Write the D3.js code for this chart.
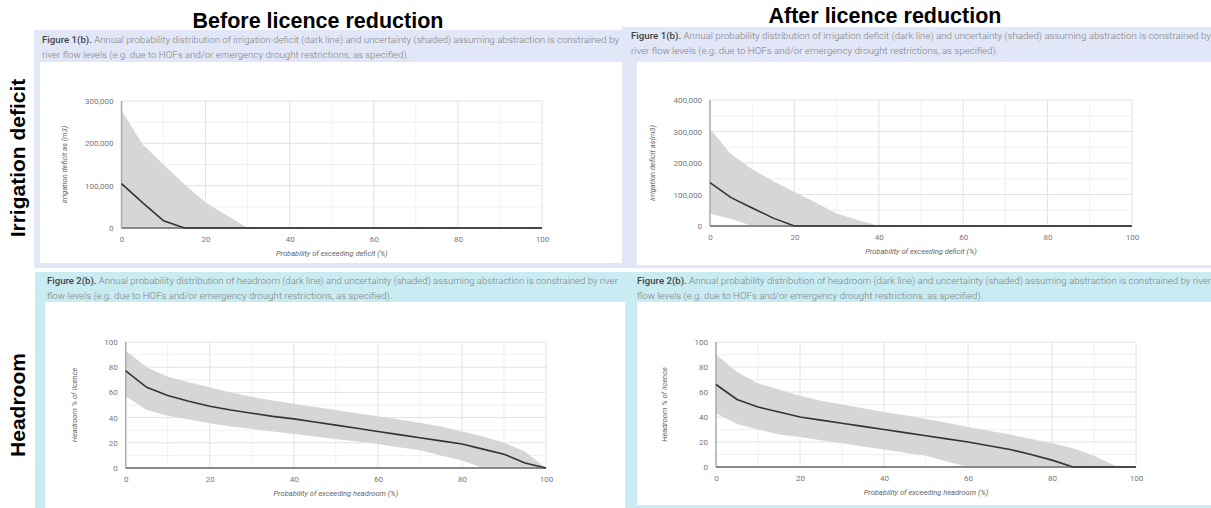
<!DOCTYPE html>
<html><head><meta charset="utf-8">
<script src="https://cdn.jsdelivr.net/npm/d3@7"></script>
<style>body{margin:0;background:#fff;}svg{display:block;}</style>
</head><body>
<svg id="c" width="1211" height="508"></svg>
<script>
// ---- data ----
const xVals = [0,5,10,15,20,25,30,35,40,45,50,55,60,65,70,75,80,85,90,95,100];

const defBeforeMedian = [105000,60000,17000,0,0,0,0,0,0,0,0,0,0,0,0,0,0,0,0,0,0];
const defBeforeUpper  = [278000,198000,150000,103000,60000,30000,0,0,0,0,0,0,0,0,0,0,0,0,0,0,0];
const defBeforeLower  = [0,0,0,0,0,0,0,0,0,0,0,0,0,0,0,0,0,0,0,0,0];

const defAfterMedian = [138000,90000,57000,25000,0,0,0,0,0,0,0,0,0,0,0,0,0,0,0,0,0];
const defAfterUpper  = [309000,228000,180000,142000,108000,75000,40000,19000,0,0,0,0,0,0,0,0,0,0,0,0,0];
const defAfterLower  = [40000,22000,0,0,0,0,0,0,0,0,0,0,0,0,0,0,0,0,0,0,0];

const headBeforeMedian = [77,64,57.5,53,49,46,43.5,41,39,36.5,34,31.5,29,26.5,24,21.5,19,15,11,4,0];
const headBeforeUpper  = [93,80,72.5,68,64,60,56.5,53.5,51,48.5,46,43.5,41,38.5,36,33,29,25,20,13,0];
const headBeforeLower  = [57,46,41.5,38.5,35.5,33,31,29,27,25,23,21,19,16.5,14,10,6,0,0,0,0];

const headAfterMedian = [66,54,48,44,40,37.5,35,32.5,30,27.5,25,22.5,20,17,14,10,5.5,0,0,0,0];
const headAfterUpper  = [90,76,67,62,57,53,50,47,44,41.5,38.5,35.5,32,29,26,22.5,19,15,9,1,0];
const headAfterLower  = [43,34.5,30,26,24,21.5,19,16.5,14,11.5,9,4.5,0,0,0,0,0,0,0,0,0];

const xTicks = [0,20,40,60,80,100];
const defBeforeTicks = [0,100000,200000,300000];
const defAfterTicks = [0,100000,200000,300000,400000];
const headTicks = [0,20,40,60,80,100];

const colTitles = ["Before licence reduction","After licence reduction"];
const rowTitles = ["Irrigation deficit","Headroom"];
const cap1a = ["Figure 1(b).", " Annual probability distribution of irrigation deficit (dark line) and uncertainty (shaded) assuming abstraction is constrained by", "river flow levels (e.g. due to HOFs and/or emergency drought restrictions, as specified)."];
const cap2a = ["Figure 2(b).", " Annual probability distribution of headroom (dark line) and uncertainty (shaded) assuming abstraction is constrained by river", "flow levels (e.g. due to HOFs and/or emergency drought restrictions, as specified)."];
const xTitleDef = "Probability of exceeding deficit (%)";
const xTitleHead = "Probability of exceeding headroom (%)";
const yTitleDefBefore = "Irrigation deficit as (m3)";
const yTitleDefAfter = "Irrigation deficit as(m3)";
const yTitleHead = "Headroom % of licence";

// ---- drawing ----
const svg = d3.select("#c");
const FONT = "Roboto, 'Liberation Sans', sans-serif";

function panel(p){
  svg.append("rect").attr("x",p.bx).attr("y",p.by).attr("width",p.bw).attr("height",p.bh).attr("fill",p.bg);
  svg.append("rect").attr("x",p.wx).attr("y",p.wy).attr("width",p.ww).attr("height",p.wh).attr("fill","#fff");
  const t1 = svg.append("text").attr("x",p.cx).attr("y",p.cy).attr("font-family",FONT).attr("font-size",9.5)
    .attr("textLength",p.cw).attr("lengthAdjust","spacingAndGlyphs");
  t1.append("tspan").attr("fill","#444").attr("font-weight",500).text(p.cap[0]);
  t1.append("tspan").attr("fill","#808080").attr("font-weight",300).text(p.cap[1]);
  svg.append("text").attr("x",p.cx).attr("y",p.cy+14.5).attr("font-family",FONT).attr("font-size",9.5).attr("font-weight",300)
    .attr("fill","#808080").attr("textLength",p.cw2).attr("lengthAdjust","spacingAndGlyphs").text(p.cap[2]);
}

function chart(c){
  const x = d3.scaleLinear().domain([0,100]).range([c.x0,c.x1]);
  const y = d3.scaleLinear().domain([0,c.ymax]).range([c.y0,c.y1]);
  const g = svg.append("g");
  const xMinor = d3.range(10,100,20);
  const yMinor = c.yt.slice(0,-1).map((v,i)=> (v+c.yt[i+1])/2);
  g.selectAll(".xm").data(xMinor).enter().append("line")
    .attr("x1",d=>x(d)).attr("x2",d=>x(d)).attr("y1",c.y0).attr("y2",c.y1).attr("stroke","#f0f0f0");
  g.selectAll(".ym").data(yMinor).enter().append("line")
    .attr("x1",c.x0).attr("x2",c.x1).attr("y1",d=>y(d)).attr("y2",d=>y(d)).attr("stroke","#f0f0f0");
  g.selectAll(".xg").data(xTicks.slice(1)).enter().append("line")
    .attr("x1",d=>x(d)).attr("x2",d=>x(d)).attr("y1",c.y0).attr("y2",c.y1).attr("stroke","#e2e2e2");
  g.selectAll(".yg").data(c.yt.slice(1)).enter().append("line")
    .attr("x1",c.x0).attr("x2",c.x1).attr("y1",d=>y(d)).attr("y2",d=>y(d)).attr("stroke","#e2e2e2");
  const area = d3.area().x((d,i)=>x(xVals[i])).y0((d,i)=>y(c.lo[i])).y1((d,i)=>y(c.up[i]));
  g.append("path").datum(c.up).attr("d",area).attr("fill","#d6d6d6");
  const xa = g.append("g").attr("transform",`translate(0,${c.y0})`)
    .call(d3.axisBottom(x).tickValues(xTicks).tickSize(0).tickPadding(8));
  const ya = g.append("g").attr("transform",`translate(${c.x0},0)`)
    .call(d3.axisLeft(y).tickValues(c.yt).tickSize(0).tickPadding(8).tickFormat(d3.format(",")));
  [xa,ya].forEach(a=>{
    a.select(".domain").remove();
    a.selectAll("text").attr("font-family",FONT).attr("font-size",8).attr("fill","#777");
  });
  g.append("line").attr("x1",c.x0).attr("x2",c.x0).attr("y1",c.y0).attr("y2",c.y1).attr("stroke","#aaa").attr("stroke-width",1.5);
  g.append("line").attr("x1",c.x0).attr("x2",c.x1).attr("y1",c.y0).attr("y2",c.y0).attr("stroke","#888").attr("stroke-width",2);
  const line = d3.line().x((d,i)=>x(xVals[i])).y(d=>y(d));
  g.append("path").datum(c.med).attr("d",line).attr("fill","none").attr("stroke","#333").attr("stroke-width",1.6);
  g.append("text").attr("x",(c.x0+c.x1)/2).attr("y",c.y0+28).attr("text-anchor","middle")
    .attr("font-family",FONT).attr("font-size",7.5).attr("font-style","italic").attr("fill","#666").text(c.xt);
  g.append("text").attr("transform",`translate(${c.ytx},${(c.y0+c.y1)/2}) rotate(-90)`).attr("text-anchor","middle")
    .attr("font-family",FONT).attr("font-size",7.5).attr("font-style","italic").attr("fill","#666").text(c.ytt);
}

panel({bx:34,by:30,bw:596,bh:238,bg:"#e2e7f8",wx:40,wy:62,ww:582,wh:201,cx:42,cy:43,cw:577,cw2:367,cap:cap1a});
panel({bx:622,by:27,bw:589,bh:241,bg:"#e2e7f8",wx:637,wy:62,ww:574,wh:203,cx:631,cy:39,cw:580,cw2:367,cap:cap1a});
panel({bx:35,by:272,bw:593,bh:236,bg:"#c9ecf2",wx:45,wy:302,ww:580,wh:206,cx:47,cy:284,cw:571,cw2:345,cap:cap2a});
panel({bx:625,by:272,bw:586,bh:236,bg:"#c9ecf2",wx:637,wy:302,ww:574,wh:203,cx:637,cy:284,cw:574,cw2:346,cap:cap2a});

chart({x0:121.5,x1:542,y0:228,y1:101,ymax:300000,yt:defBeforeTicks,med:defBeforeMedian,up:defBeforeUpper,lo:defBeforeLower,xt:xTitleDef,ytt:yTitleDefBefore,ytx:67});
chart({x0:710,x1:1132,y0:226,y1:100,ymax:400000,yt:defAfterTicks,med:defAfterMedian,up:defAfterUpper,lo:defAfterLower,xt:xTitleDef,ytt:yTitleDefAfter,ytx:655});
chart({x0:125.7,x1:546,y0:468,y1:342,ymax:100,yt:headTicks,med:headBeforeMedian,up:headBeforeUpper,lo:headBeforeLower,xt:xTitleHead,ytt:yTitleHead,ytx:77});
chart({x0:716,x1:1136,y0:467,y1:342,ymax:100,yt:headTicks,med:headAfterMedian,up:headAfterUpper,lo:headAfterLower,xt:xTitleHead,ytt:yTitleHead,ytx:667});

const HF = "'Liberation Sans', Arial, sans-serif";
svg.append("text").attr("x",318).attr("y",28).attr("text-anchor","middle").attr("font-family",HF)
  .attr("font-size",21.5).attr("font-weight","bold").attr("fill","#000").text(colTitles[0]);
svg.append("text").attr("x",885).attr("y",23).attr("text-anchor","middle").attr("font-family",HF)
  .attr("font-size",21.5).attr("font-weight","bold").attr("fill","#000").text(colTitles[1]);
svg.append("text").attr("transform","translate(25,158) rotate(-90)").attr("text-anchor","middle").attr("font-family",HF)
  .attr("font-size",21).attr("font-weight","bold").attr("fill","#000").text(rowTitles[0]);
svg.append("text").attr("transform","translate(25,405) rotate(-90)").attr("text-anchor","middle").attr("font-family",HF)
  .attr("font-size",21).attr("font-weight","bold").attr("fill","#000").text(rowTitles[1]);
</script>
</body></html>
